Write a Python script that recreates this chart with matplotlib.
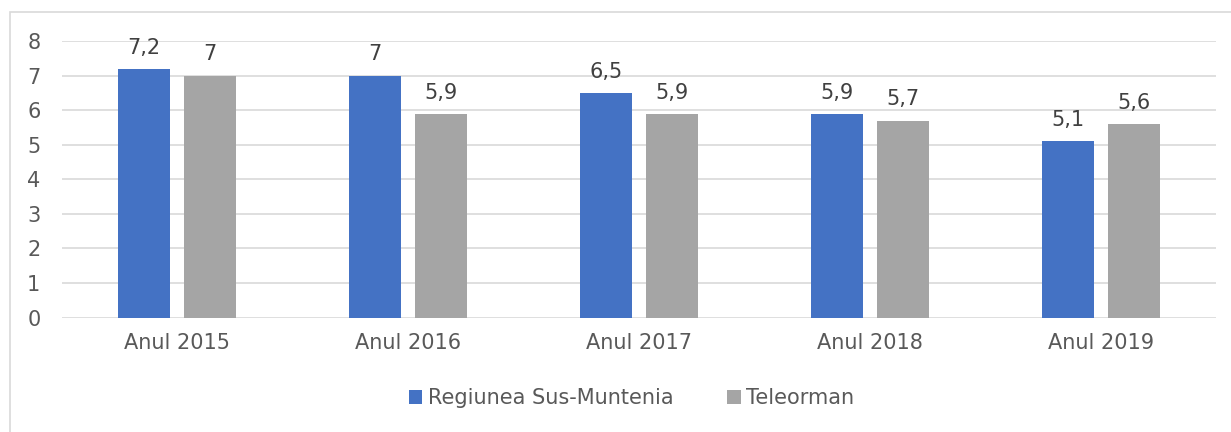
import numpy as np
import matplotlib.pyplot as plt
from matplotlib.patches import Rectangle

categories = ['Anul 2015', 'Anul 2016', 'Anul 2017', 'Anul 2018', 'Anul 2019']
sus_muntenia = [7.2, 7.0, 6.5, 5.9, 5.1]
teleorman = [7.0, 5.9, 5.9, 5.7, 5.6]
series_names = ['Regiunea Sus-Muntenia', 'Teleorman']

plt.rcParams['font.family'] = ['DejaVu Sans']

fig = plt.figure(figsize=(12.31, 4.32), dpi=100)
ax = fig.add_axes([0.05, 0.265, 0.938, 0.64])

# chart frame (only left and top edges visible in the crop)
fig.patches.append(Rectangle((10 / 1231, -0.1), 1.2, 1 - 12 / 432 + 0.1,
                             transform=fig.transFigure, fill=False,
                             edgecolor='#D9D9D9', linewidth=1.2))

x = np.arange(len(categories))
w = 0.225
off = 0.143
b1 = ax.bar(x - off, sus_muntenia, w, color='#4472C4', label=series_names[0], zorder=3)
b2 = ax.bar(x + off, teleorman, w, color='#A5A5A5', label=series_names[1], zorder=3)

def fmt(v):
    return ('%g' % v).replace('.', ',')

for bars, vals in ((b1, sus_muntenia), (b2, teleorman)):
    for r, v in zip(bars, vals):
        ax.annotate(fmt(v), (r.get_x() + r.get_width() / 2, v),
                    xytext=(0, 8), textcoords='offset points',
                    ha='center', va='bottom', fontsize=15, color='#404040')

ax.set_xlim(-0.5, len(categories) - 0.5)
ax.set_ylim(0, 8)
ax.set_yticks(range(0, 9))
ax.set_xticks(x)
ax.set_xticklabels(categories)
ax.tick_params(axis='both', length=0, labelsize=15, colors='#595959')
ax.tick_params(axis='x', pad=11)
ax.tick_params(axis='y', pad=20)
for lbl in ax.get_yticklabels():
    lbl.set_horizontalalignment('center')
ax.grid(axis='y', color='#D9D9D9', linewidth=1.2, zorder=0)
for s in ax.spines.values():
    s.set_visible(False)

fig.legend(loc='center', bbox_to_anchor=(0.513, 0.079), ncol=2, frameon=False,
           fontsize=15, labelcolor='#595959', handlelength=0.65, handleheight=0.65,
           handletextpad=0.25, columnspacing=2.6)

fig.savefig('out.png', dpi=100, facecolor='white')
